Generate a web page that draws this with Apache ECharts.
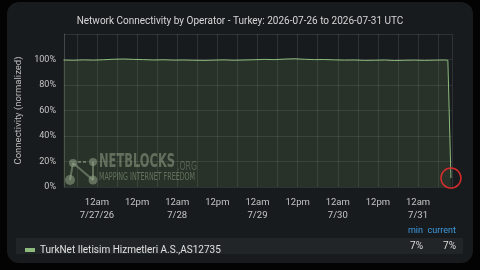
<!DOCTYPE html>
<html><head><meta charset="utf-8">
<script src="https://cdn.jsdelivr.net/npm/echarts@6/dist/echarts.min.js"></script>
<style>html,body{margin:0;padding:0;background:#030303;}#c{width:480px;height:270px;}</style>
</head><body><div id="c"></div>
<script>
const titleText = 'Network Connectivity by Operator - Turkey: 2026-07-26 to 2026-07-31 UTC';
const seriesName = 'TurkNet Iletisim Hizmetleri A.S.,AS12735';
const yAxisName = 'Connectivity (normalized)';
const times = [
 '2026-07-26T14:00:00Z','2026-07-26T17:00:00Z','2026-07-26T20:00:00Z','2026-07-26T23:00:00Z',
 '2026-07-27T02:00:00Z','2026-07-27T05:00:00Z','2026-07-27T08:00:00Z','2026-07-27T11:00:00Z',
 '2026-07-27T14:00:00Z','2026-07-27T17:00:00Z','2026-07-27T20:00:00Z','2026-07-27T23:00:00Z',
 '2026-07-28T02:00:00Z','2026-07-28T05:00:00Z','2026-07-28T08:00:00Z','2026-07-28T11:00:00Z',
 '2026-07-28T14:00:00Z','2026-07-28T17:00:00Z','2026-07-28T20:00:00Z','2026-07-28T23:00:00Z',
 '2026-07-29T02:00:00Z','2026-07-29T05:00:00Z','2026-07-29T08:00:00Z','2026-07-29T11:00:00Z',
 '2026-07-29T14:00:00Z','2026-07-29T17:00:00Z','2026-07-29T20:00:00Z','2026-07-29T23:00:00Z',
 '2026-07-30T02:00:00Z','2026-07-30T05:00:00Z','2026-07-30T08:00:00Z','2026-07-30T11:00:00Z',
 '2026-07-30T14:00:00Z','2026-07-30T17:00:00Z','2026-07-30T20:00:00Z','2026-07-30T23:00:00Z',
 '2026-07-31T02:00:00Z','2026-07-31T05:00:00Z','2026-07-31T08:00:00Z','2026-07-31T08:55:00Z',
 '2026-07-31T09:50:00Z'
];
const values = [
 99.6, 99.4, 99.7, 99.5,
 99.8, 100.2, 100.4, 100.1,
 99.9, 99.6, 99.8, 99.5,
 99.6, 99.4, 99.3, 99.5,
 99.7, 99.4, 99.6, 99.8,
 100.1, 99.9, 100.3, 100.6,
 100.2, 99.9, 100.0, 99.7,
 99.5, 99.6, 99.3, 99.4,
 99.6, 99.2, 99.4, 99.5,
 99.3, 99.5, 99.6, 99.4,
 7
];
const yTicks = [0, 20, 40, 60, 80, 100, 120];
const xMin = '2026-07-26T14:09:00Z';
const xMax = '2026-07-31T10:09:00Z';

const data = times.map((t, i) => [t, values[i]]);
const minVal = Math.round(Math.min(...values));
const curVal = Math.round(values[values.length - 1]);
const firstMidnight = Date.parse('2026-07-27T00:00:00Z');

const mctx = document.createElement('canvas').getContext('2d');
function fitScale(text, font, w) { mctx.font = font; return w / mctx.measureText(text).width; }
const condensed = '"Liberation Sans Narrow", "DejaVu Sans Condensed", "DejaVu Sans", sans-serif';
const f1 = 'bold 19px ' + condensed, f2 = '13px ' + condensed, f3 = '11px ' + condensed;

const chart = echarts.init(document.getElementById('c'), null, {renderer: 'canvas'});
const font = 'Roboto, "Noto Sans", sans-serif';
const logoColor = 'rgba(165,180,160,0.5)';
chart.setOption({
  useUTC: true,
  animation: false,
  backgroundColor: 'transparent',
  textStyle: {fontFamily: font},
  title: {text: titleText, left: 'center', top: 11,
    textStyle: {color: '#d6d6d6', fontSize: 10, fontWeight: 'normal', fontFamily: font}},
  grid: {left: 64, right: 28, top: 34, bottom: 83},
  legend: {show: true, left: 20, top: 240, icon: 'rect', itemWidth: 10, itemHeight: 4, itemGap: 4,
    textStyle: {color: '#e0e0e0', fontSize: 10, fontFamily: font}, selectedMode: false},
  xAxis: {
    type: 'time', min: xMin, max: xMax,
    minInterval: 12 * 3600 * 1000, maxInterval: 12 * 3600 * 1000,
    axisLine: {show: false}, axisTick: {show: false},
    splitLine: {show: true, lineStyle: {color: 'rgba(255,255,255,0.1)', width: 1}},
    axisLabel: {
      color: '#c4c4c4', fontSize: 9.5, lineHeight: 13, margin: 9,
      showMinLabel: false, showMaxLabel: false, hideOverlap: false,
      formatter: function (v) {
        const d = new Date(v);
        const h = d.getUTCHours();
        if (h === 12) return '12pm';
        if (h === 0) {
          let s = '12am\n' + (d.getUTCMonth() + 1) + '/' + d.getUTCDate();
          if (v === firstMidnight) s += '/26';
          return s;
        }
        return '';
      }
    }
  },
  yAxis: {
    type: 'value', min: yTicks[0], max: yTicks[yTicks.length - 1], interval: 20,
    name: yAxisName, nameLocation: 'middle', nameGap: 34, nameRotate: 90,
    nameTextStyle: {color: '#bdbdbd', fontSize: 9.5, fontFamily: font},
    axisLine: {show: true, lineStyle: {color: 'rgba(255,255,255,0.1)'}}, axisTick: {show: false},
    splitLine: {show: true, lineStyle: {color: 'rgba(255,255,255,0.1)', width: 1}},
    axisLabel: {color: '#c4c4c4', fontSize: 9, margin: 8,
      formatter: v => v === 120 ? '' : v + '%'}
  },
  series: [{
    name: seriesName, type: 'line', data: data, showSymbol: false, symbol: 'none',
    lineStyle: {color: '#8dbb7e', width: 1},
    itemStyle: {color: '#8dbb7e'},
    areaStyle: {color: 'rgba(105,150,85,0.28)'},
    markPoint: {
      symbol: 'circle', symbolSize: 20, silent: true,
      label: {show: false},
      itemStyle: {color: 'rgba(0,0,0,0)', borderColor: '#d22c2c', borderWidth: 1.5},
      data: [{coord: data[data.length - 1]}]
    }
  }],
  graphic: [
    {type: 'rect', z: -10, shape: {x: 7, y: 2, width: 466, height: 261, r: 12}, style: {fill: '#181b1d'}},
    {type: 'rect', z: -9, shape: {x: 16, y: 238, width: 447, height: 16, r: 1}, style: {fill: '#222527'}},
    {type: 'text', style: {text: 'min', x: 423, y: 231, align: 'right', verticalAlign: 'middle', fill: '#3d9be0', font: '9px ' + font}},
    {type: 'text', style: {text: 'current', x: 456, y: 231, align: 'right', verticalAlign: 'middle', fill: '#3d9be0', font: '9px ' + font}},
    {type: 'text', style: {text: minVal + '%', x: 423, y: 246, align: 'right', verticalAlign: 'middle', fill: '#dcdcdc', font: '10px ' + font}},
    {type: 'text', style: {text: curVal + '%', x: 456, y: 246, align: 'right', verticalAlign: 'middle', fill: '#dcdcdc', font: '10px ' + font}},
    // watermark
    {type: 'group', silent: true, z: 5, children: [
      {type: 'line', shape: {x1: 70, y1: 180, x2: 73, y2: 163}, style: {stroke: logoColor, lineWidth: 2}},
      {type: 'line', shape: {x1: 73, y1: 163, x2: 93, y2: 180}, style: {stroke: logoColor, lineWidth: 2}},
      {type: 'line', shape: {x1: 78, y1: 162, x2: 88, y2: 162}, style: {stroke: logoColor, lineWidth: 2, lineDash: [3, 2]}},
      {type: 'line', shape: {x1: 93, y1: 162, x2: 93, y2: 180}, style: {stroke: logoColor, lineWidth: 2}},
      {type: 'circle', shape: {cx: 70, cy: 180, r: 5}, style: {fill: logoColor}},
      {type: 'circle', shape: {cx: 73, cy: 163, r: 4}, style: {fill: logoColor}},
      {type: 'circle', shape: {cx: 93, cy: 162, r: 4}, style: {fill: logoColor}},
      {type: 'circle', shape: {cx: 93, cy: 180, r: 4.5}, style: {fill: logoColor}},
      {type: 'text', x: 99, y: 172, scaleX: fitScale('NETBLOCKS', f1, 76), style: {text: 'NETBLOCKS', x: 0, y: 0, verticalAlign: 'bottom', fill: logoColor, font: f1}},
      {type: 'text', x: 177, y: 173, scaleX: fitScale('.ORG', f2, 20), style: {text: '.ORG', x: 0, y: 0, verticalAlign: 'bottom', fill: 'rgba(165,180,160,0.38)', font: f2}},
      {type: 'text', x: 99, y: 183, scaleX: fitScale('MAPPING INTERNET FREEDOM', f3, 96), style: {text: 'MAPPING INTERNET FREEDOM', x: 0, y: 0, verticalAlign: 'bottom', fill: logoColor, font: f3}}
    ]}
  ]
});
</script></body></html>
